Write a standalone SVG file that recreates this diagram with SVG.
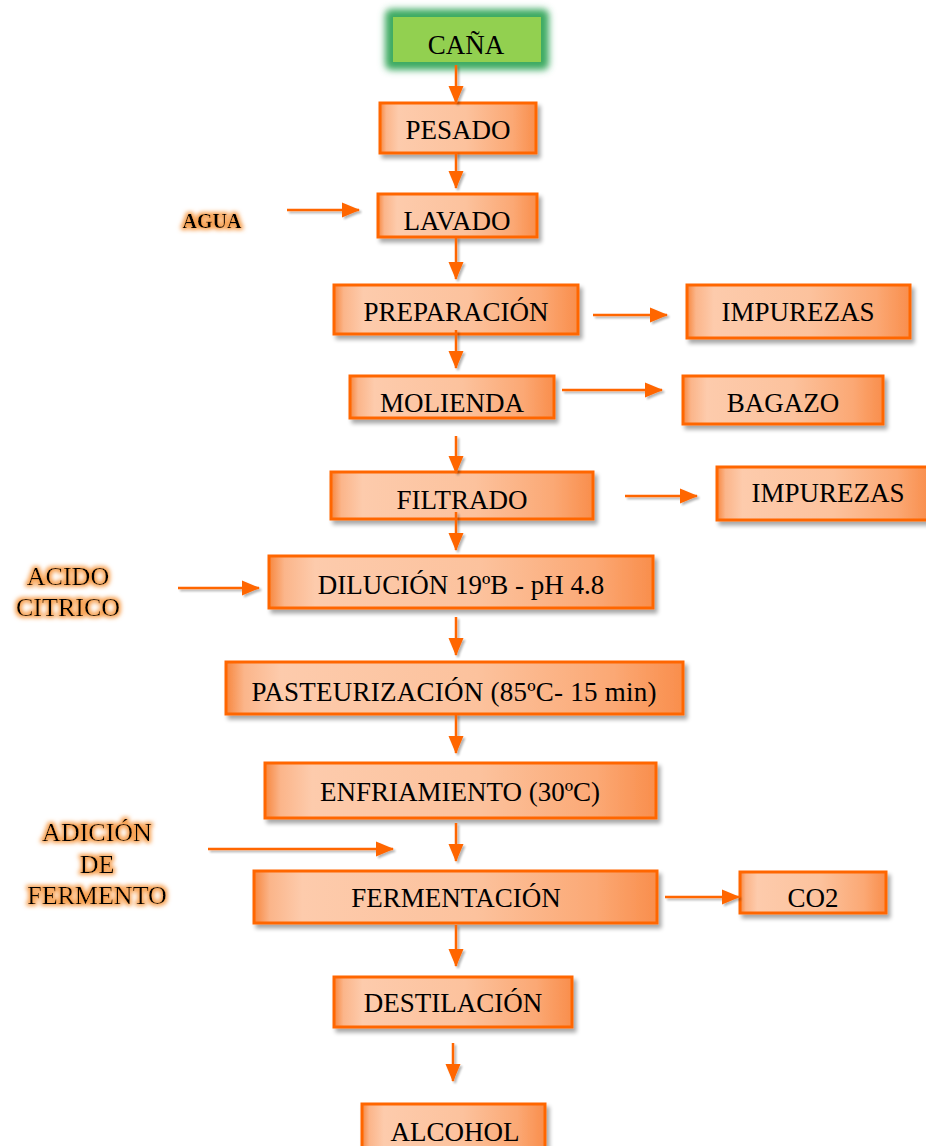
<svg xmlns="http://www.w3.org/2000/svg" width="926" height="1146" viewBox="0 0 926 1146">
<defs>
<linearGradient id="boxg" x1="0" y1="0" x2="1" y2="0">
<stop offset="0" stop-color="#F7873F"/>
<stop offset="0.04" stop-color="#FBB58A"/>
<stop offset="0.12" stop-color="#FDCBAC"/>
<stop offset="0.55" stop-color="#FCC29D"/>
<stop offset="0.85" stop-color="#FBA874"/>
<stop offset="1" stop-color="#F98E4C"/>
</linearGradient>
<filter id="shadow" x="-10%" y="-20%" width="125%" height="160%">
<feGaussianBlur in="SourceAlpha" stdDeviation="2"/>
<feOffset dx="3" dy="4" result="b"/>
<feComponentTransfer><feFuncA type="linear" slope="0.35"/></feComponentTransfer>
<feMerge><feMergeNode/><feMergeNode in="SourceGraphic"/></feMerge>
</filter>
<filter id="soft" x="-30%" y="-60%" width="160%" height="220%">
<feGaussianBlur stdDeviation="3.5"/>
</filter>
<filter id="glow" x="-20%" y="-40%" width="140%" height="180%">
<feMorphology in="SourceAlpha" operator="dilate" radius="1.5" result="d"/>
<feGaussianBlur in="d" stdDeviation="2" result="bl"/>
<feFlood flood-color="#F7A050" result="c"/>
<feComposite in="c" in2="bl" operator="in" result="g"/>
<feMerge><feMergeNode in="g"/><feMergeNode in="SourceGraphic"/></feMerge>
</filter>
<filter id="cshadow" x="-20%" y="-20%" width="140%" height="140%">
<feGaussianBlur in="SourceAlpha" stdDeviation="1.2"/>
<feOffset dx="2" dy="2"/>
<feComponentTransfer><feFuncA type="linear" slope="0.3"/></feComponentTransfer>
<feMerge><feMergeNode/><feMergeNode in="SourceGraphic"/></feMerge>
</filter>
<marker id="ah" markerUnits="userSpaceOnUse" markerWidth="19" markerHeight="18" refX="17" refY="9" orient="auto">
<path d="M0,1.5 L18,9 L0,16.5 z" fill="#FF6600"/>
</marker>
</defs>
<style>
.box{fill:url(#boxg);stroke:#FF6600;stroke-width:3;filter:url(#shadow)}
.t{font-family:"Liberation Serif","Times New Roman",serif;font-size:27px;fill:#000;text-anchor:middle}
.lab{font-family:"Liberation Serif","Times New Roman",serif;font-size:26px;fill:#000;text-anchor:middle;filter:url(#glow)}
.c{stroke:#FF6600;stroke-width:2.5;fill:none;marker-end:url(#ah)}
</style>
<rect width="926" height="1146" fill="#fff"/>

<g id="cana">
<rect x="385" y="9" width="164" height="61" rx="6" fill="#3DAA62" filter="url(#soft)"/>
<rect x="393" y="17" width="148" height="45" fill="#92D050"/>
<text class="t" x="466" y="54">CAÑA</text>
</g>
<g id="pesado"><rect class="box" x="380" y="103" width="156" height="50"/><text class="t" x="458" y="139">PESADO</text></g>
<g id="agua"><text x="212" y="228" style="font-family:'Liberation Serif',serif;font-weight:bold;font-size:20px;text-anchor:middle;filter:url(#glow)">AGUA</text></g>
<g id="lavado"><rect class="box" x="378" y="194" width="159" height="43"/><text class="t" x="457" y="230">LAVADO</text></g>
<g id="preparacion"><rect class="box" x="334" y="285" width="244" height="49"/><text class="t" x="456" y="321">PREPARACIÓN</text></g>
<g id="impurezas1"><rect class="box" x="687" y="285" width="223" height="53"/><text class="t" x="798" y="321">IMPUREZAS</text></g>
<g id="molienda"><rect class="box" x="350" y="376" width="204" height="42"/><text class="t" x="452" y="412">MOLIENDA</text></g>
<g id="bagazo"><rect class="box" x="683" y="376" width="200" height="48"/><text class="t" x="783" y="412">BAGAZO</text></g>
<g id="filtrado"><rect class="box" x="331" y="472" width="262" height="47"/><text class="t" x="462" y="509">FILTRADO</text></g>
<g id="impurezas2"><rect class="box" x="717" y="467" width="212" height="53"/><text class="t" x="828" y="502">IMPUREZAS</text></g>
<g id="acido"><text class="lab" x="68" y="585">ACIDO</text><text class="lab" x="68" y="616">CITRICO</text></g>
<g id="dilucion"><rect class="box" x="269" y="556" width="384" height="52"/><text class="t" x="461" y="594">DILUCIÓN 19ºB - pH 4.8</text></g>
<g id="pasteurizacion"><rect class="box" x="226" y="662" width="457" height="52"/><text class="t" x="454" y="701" textLength="405" lengthAdjust="spacing">PASTEURIZACIÓN (85ºC- 15 min)</text></g>
<g id="enfriamiento"><rect class="box" x="265" y="763" width="391" height="55"/><text class="t" x="460" y="801">ENFRIAMIENTO (30ºC)</text></g>
<g id="adicion"><text class="lab" x="97" y="841">ADICIÓN</text><text class="lab" x="97" y="873">DE</text><text class="lab" x="97" y="904">FERMENTO</text></g>
<g id="fermentacion"><rect class="box" x="254" y="871" width="403" height="52"/><text class="t" x="456" y="907">FERMENTACIÓN</text></g>
<g id="co2"><rect class="box" x="740" y="872" width="146" height="41"/><text class="t" x="813" y="907">CO2</text></g>
<g id="destilacion"><rect class="box" x="334" y="977" width="238" height="50"/><text class="t" x="453" y="1012">DESTILACIÓN</text></g>
<g id="alcohol"><rect class="box" x="362" y="1104" width="183" height="50"/><text class="t" x="455" y="1141">ALCOHOL</text></g>

<g id="connectors" filter="url(#cshadow)">
<line class="c" x1="456" y1="65" x2="456" y2="103"/>
<line class="c" x1="456" y1="152" x2="456" y2="188"/>
<line class="c" x1="287" y1="210" x2="359" y2="210"/>
<line class="c" x1="456" y1="237" x2="456" y2="279"/>
<line class="c" x1="456" y1="330" x2="456" y2="368"/>
<line class="c" x1="593" y1="315" x2="667" y2="315"/>
<line class="c" x1="562" y1="390" x2="662" y2="390"/>
<line class="c" x1="456" y1="436" x2="456" y2="473"/>
<line class="c" x1="625" y1="496" x2="697" y2="496"/>
<line class="c" x1="456" y1="512" x2="456" y2="550"/>
<line class="c" x1="178" y1="588" x2="259" y2="588"/>
<line class="c" x1="456" y1="617" x2="456" y2="655"/>
<line class="c" x1="456" y1="714" x2="456" y2="753"/>
<line class="c" x1="208" y1="849" x2="393" y2="849"/>
<line class="c" x1="456" y1="823" x2="456" y2="861"/>
<line class="c" x1="665" y1="897" x2="739" y2="897"/>
<line class="c" x1="456" y1="925" x2="456" y2="966"/>
<line class="c" x1="453" y1="1043" x2="453" y2="1081"/>
</g>
</svg>
